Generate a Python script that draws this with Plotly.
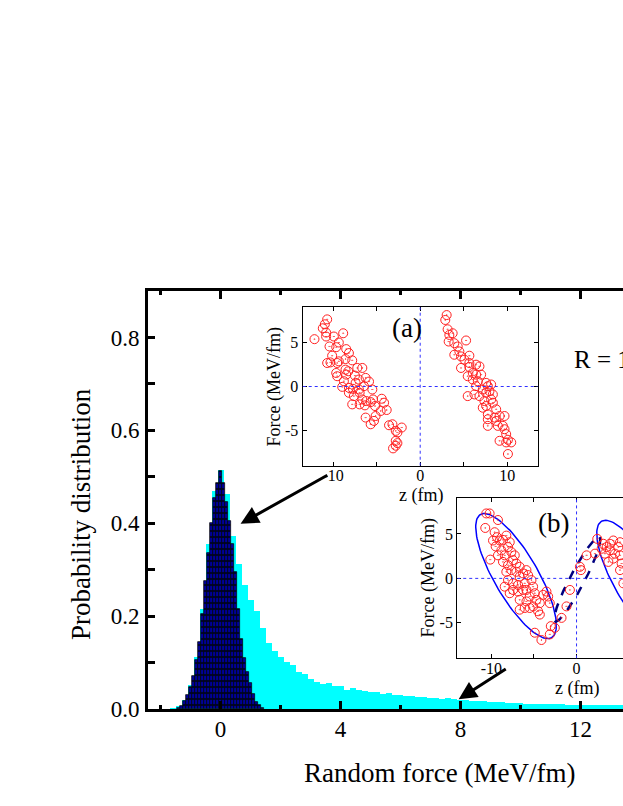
import numpy as np
import plotly.graph_objects as go

FONT = "Liberation Serif"

# ---------------- main histograms ----------------
cyan_x = [-1.6, -1.4, -1.2, -1.0, -0.8, -0.6, -0.4, -0.2, 0.0, 0.2,
          0.4, 0.6, 0.8, 1.0, 1.2, 1.4, 1.6, 1.8, 2.0, 2.2,
          2.4, 2.6, 2.8, 3.0, 3.2, 3.4, 3.6, 3.8, 4.0, 4.2,
          4.4, 4.6, 4.8, 5.0, 5.2, 5.4, 5.6, 5.8, 6.0, 6.2,
          6.4, 6.6, 6.8, 7.0, 7.2, 7.4, 7.6, 7.8, 8.0, 8.2,
          8.4, 8.6, 8.8, 9.0, 9.2, 9.4, 9.6, 9.8, 10.0, 10.2,
          10.4, 10.6, 10.8, 11.0, 11.2, 11.4, 11.6, 11.8, 12.0, 12.2,
          12.4, 12.6, 12.8, 13.0, 13.2, 13.4]
cyan_y = [0.002, 0.007, 0.020, 0.052, 0.112, 0.215, 0.355, 0.470, 0.514, 0.462,
          0.372, 0.312, 0.268, 0.235, 0.210, 0.175, 0.142, 0.124, 0.112, 0.101,
          0.094, 0.080, 0.076, 0.064, 0.058, 0.054, 0.055, 0.049, 0.050, 0.041,
          0.045, 0.040, 0.038, 0.037, 0.036, 0.033, 0.034, 0.030, 0.031, 0.028,
          0.027, 0.026, 0.025, 0.024, 0.023, 0.022, 0.023, 0.021, 0.020, 0.019,
          0.018, 0.017, 0.0175, 0.016, 0.015, 0.0145, 0.014, 0.013, 0.012, 0.0115,
          0.0112, 0.011, 0.0105, 0.0102, 0.010, 0.0098, 0.0094, 0.0092, 0.009, 0.0088,
          0.0087, 0.0085, 0.0086, 0.0084, 0.0083, 0.0082]

dark_x = [-1.4, -1.3, -1.2, -1.1, -1.0, -0.9, -0.8, -0.7, -0.6, -0.5,
          -0.4, -0.3, -0.2, -0.1, 0.0, 0.1, 0.2, 0.3, 0.4, 0.5,
          0.6, 0.7, 0.8, 0.9, 1.0, 1.1, 1.2, 1.3, 1.4]
dark_y = [0.003, 0.007, 0.017, 0.030, 0.048, 0.072, 0.105, 0.145, 0.205, 0.275,
          0.335, 0.400, 0.455, 0.487, 0.512, 0.487, 0.445, 0.405, 0.355, 0.295,
          0.215, 0.150, 0.110, 0.080, 0.055, 0.033, 0.016, 0.008, 0.003]

# ---------------- inset (a) scatter ----------------
a_z = [-12.15, -11.19, -10.69, -10.96, -10.81, -10.81, -9.92, -8.85, -9.35, -10.42,
       -9.65, -8.5, -8.19, -10.12, -10.31, -10.69, -9.54, -9.35, -8.58, -7.81,
       -7.23, -6.65, -8.58, -9.65, -9.54, -8.5, -8.27, -7.5, -8.77, -8.96,
       -8.19, -7.73, -7.42, -7.04, -6.27, -7.04, -6.46, -5.88, -5.5, -6.96,
       -7.62, -8.19, -6.65, -6.19, -7.81, -6.96, -6.35, -5.69, -5.19, -5.42,
       -4.42, -4.15, -3.85, -4.54, -5.12, -5.31, -5.69, -6.27, -3.58, -3.19,
       -2.12, -2.81, -2.81, -2.62, -3.12, -2.81, -2.62,
       3.04, 2.88, 3.15, 3.35, 3.73, 3.27, 3.92, 4.31, 5.27, 4.5,
       4.69, 3.92, 5.08, 5.65, 5.65, 4.69, 5.65, 6.42, 6.81, 6.04,
       6.42, 7.0, 5.46, 6.04, 6.62, 7.58, 7.77, 8.15, 7.19, 6.42,
       5.46, 6.23, 6.81, 7.58, 7.96, 8.35, 7.38, 8.15, 7.19, 7.58,
       8.35, 8.73, 7.77, 7.77, 7.77, 8.54, 8.73, 9.12, 8.92, 9.5,
       9.69, 9.69, 9.88, 10.08, 9.12, 9.88, 10.46, 10.08]
a_f = [5.38, 6.62, 7.63, 7.07, 6.13, 5.68, 5.68, 6.05, 5.0, 4.55,
       4.47, 4.25, 3.80, 3.50, 2.74, 2.67, 2.67, 2.86, 3.12, 2.97,
       2.11, 2.11, 1.92, 1.54, 1.17, 1.35, 1.73, 1.24, 0.60, -0.04,
       -0.15, -0.26, 0.41, 0.79, 0.98, -0.34, 0.04, 0.56, -0.34, -0.71,
       -1.09, -0.71, -1.47, -1.65, -2.03, -2.03, -2.14, -1.77, -2.22, -1.47,
       -1.39, -1.84, -2.67, -2.78, -3.35, -3.91, -4.29, -3.53, -4.40, -4.29,
       -4.66, -5.04, -6.17, -6.43, -7.03, -6.73, -5.23,
       8.12, 7.56, 6.50, 5.86, 6.05, 5.11, 4.92, 4.55, 5.23, 3.98,
       3.42, 3.61, 3.05, 3.50, 2.67, 2.11, 2.22, 2.48, 2.29, 1.54,
       1.35, 1.35, 1.17, 0.79, 0.60, 0.41, 0.04, 0.23, -0.34, 0.04,
       -1.09, -0.90, -1.09, -0.71, -0.53, -0.90, -1.65, -1.47, -2.41, -2.22,
       -1.84, -2.59, -3.16, -3.72, -4.47, -3.53, -3.91, -3.35, -4.47, -4.47,
       -3.35, -4.85, -5.41, -6.05, -6.17, -6.35, -6.35, -7.67]

# ---------------- inset (b) scatter ----------------
b_z = [-10.59, -10.2, -9.22, -10.71, -9.61, -10.12, -9.8, -9.33, -9.49, -9.02,
       -8.63, -8.24, -7.84, -8.04, -8.82, -9.22, -8.43, -7.65, -7.25, -7.45,
       -8.63, -8.04, -7.06, -6.67, -8.24, -7.65, -7.06, -6.27, -5.88, -5.29,
       -5.69, -6.67, -8.04, -8.43, -7.45, -6.86, -6.08, -7.45, -7.84, -6.86,
       -6.27, -5.88, -5.10, -4.90, -5.49, -6.67, -5.88, -4.71, -6.08, -6.67,
       -5.49, -5.10, -4.31, -4.51, -4.31, -3.53, -3.33, -3.92, -3.14, -4.90,
       -3.14, -2.55, -4.12, -3.02,
       -1.76, -1.18, -0.78, 0.39, 0.51, 1.18, 2.16, 2.43,
       3.14, 2.94, 3.53, 3.92, 4.31, 5.10, 3.33, 3.92, 4.51, 4.31,
       3.73, 4.90, 5.10, 5.29, 5.10, 5.49, 6.2, 6.8, 7.5, 8.3,
       9.0, 9.6, 10.2, 7.0, 8.0, 8.8]
b_f = [7.30, 7.30, 6.56, 5.67, 5.19, 2.11, 4.26, 4.63, 3.59, 4.26,
       4.33, 4.81, 4.07, 3.52, 3.15, 2.59, 2.59, 2.96, 2.59, 2.04,
       1.85, 1.48, 1.67, 1.30, 0.74, 0.93, 0.74, 0.56, 0.93, -0.19,
       0.37, 0.19, -0.19, -0.93, -0.56, -0.74, -0.56, -1.30, -1.67, -1.48,
       -1.30, -1.30, -0.93, -1.67, -2.04, -2.41, -2.59, -2.41, -3.33, -3.52,
       -3.33, -3.15, -2.78, -3.70, -4.07, -1.48, -2.04, -1.85, -2.78, -6.11,
       -6.30, -5.56, -6.93, -5.37,
       -4.44, -3.15, -1.30, 1.30, 0.93, 2.59, 2.78, 4.44,
       3.89, 3.33, 3.52, 3.89, 4.26, 4.07, 2.78, 3.15, 2.78, 2.22,
       1.85, 3.52, 2.59, 1.67, 0.93, -0.56, 0.2, -1.0, -2.2, -3.0,
       -4.1, -5.2, -6.3, -1.5, -2.8, -4.6]

# ellipse parameters in inset (b): center, semi-major vector, semi-minor vector
ell_left = dict(c=(-7.1, 0.26), a=(4.16, -6.93), b=(2.25, 1.20))
ell_right = dict(c=(7.1, -0.5), a=(4.16, -6.93), b=(2.25, 1.20))
ell_mid = dict(c=(0.08, -0.11), a=(2.59, 4.74), b=(0.77, -0.37))


def ellipse(p, n=120):
    t = np.linspace(0, 2 * np.pi, n)
    x = p["c"][0] + np.cos(t) * p["a"][0] + np.sin(t) * p["b"][0]
    y = p["c"][1] + np.cos(t) * p["a"][1] + np.sin(t) * p["b"][1]
    return x, y


fig = go.Figure()

fig.add_trace(go.Bar(x=cyan_x, y=cyan_y, width=0.2, marker=dict(color="#00ffff", line=dict(width=0)),
                     xaxis="x", yaxis="y", showlegend=False))
fig.add_trace(go.Bar(x=dark_x, y=dark_y, width=0.1,
                     marker=dict(color="#000000", line=dict(color="#000000", width=0.7),
                                 pattern=dict(shape="-", fgcolor="#0000ff", bgcolor="#000033",
                                              size=6, solidity=0.65)),
                     xaxis="x", yaxis="y", showlegend=False))

sym = "circle-open-dot"
fig.add_trace(go.Scatter(x=a_z, y=a_f, mode="markers", xaxis="x2", yaxis="y2",
                         marker=dict(symbol=sym, size=9, color="#ff2020", line=dict(width=1)),
                         showlegend=False))
for p, col, dash, w in [(ell_left, "#0000ff", "solid", 1.5), (ell_right, "#0000ff", "solid", 1.5),
                        (ell_mid, "#000080", "dash", 2.5)]:
    ex, ey = ellipse(p)
    fig.add_trace(go.Scatter(x=ex, y=ey, mode="lines", xaxis="x3", yaxis="y3",
                             line=dict(color=col, width=w, dash=dash), showlegend=False))
fig.add_trace(go.Scatter(x=b_z, y=b_f, mode="markers", xaxis="x3", yaxis="y3",
                         marker=dict(symbol=sym, size=9, color="#ff2020", line=dict(width=1)),
                         showlegend=False))

tf_main = dict(family=FONT, size=23, color="black")
tf_in = dict(family=FONT, size=16, color="black")

inset_ax = dict(showline=True, linecolor="black", linewidth=1.3, ticks="inside", ticklen=4,
                tickwidth=1, tickcolor="black", showgrid=False, zeroline=False, tickfont=tf_in)

fig.update_layout(
    width=623, height=806,
    margin=dict(l=148, r=0, t=291, b=97),
    paper_bgcolor="white", plot_bgcolor="white",
    barmode="overlay", bargap=0,
    xaxis=dict(domain=[0, 1], range=[-2.42, 13.42], tickvals=[0, 4, 8, 12], ticktext=["0", "4", "8", "12"],
               ticks="inside", ticklen=8, tickwidth=2.5, tickcolor="black",
               minor=dict(tickvals=[-2, 2, 6, 10], ticks="inside", ticklen=4, tickwidth=2.5, tickcolor="black"),
               showline=True, linewidth=3, linecolor="black", mirror="ticks",
               showgrid=False, zeroline=False, tickfont=tf_main, ticklabelstandoff=-3),
    yaxis=dict(domain=[0, 1], range=[0, 0.9], tickvals=[0, 0.2, 0.4, 0.6, 0.8],
               ticktext=["0.0", "0.2", "0.4", "0.6", "0.8"],
               ticks="inside", ticklen=7, tickwidth=2.5, tickcolor="black",
               minor=dict(tickvals=[0.1, 0.3, 0.5, 0.7], ticks="inside", ticklen=7, tickwidth=2.5,
                          tickcolor="black"),
               showline=True, linewidth=3, linecolor="black", mirror=False,
               showgrid=False, zeroline=False, tickfont=tf_main, ticklabelstandoff=1),
    xaxis2=dict(domain=[0.3257, 0.8204], range=[-13.5, 13.5], anchor="y2",
                tickvals=[-10, 0, 10], ticktext=["-10", "0", "10"], mirror="ticks",
                minor=dict(tickvals=[-5, 5], ticks="inside", ticklen=4, tickcolor="black"),
                ticklabelstandoff=-5, **inset_ax),
    yaxis2=dict(domain=[0.582, 0.961], range=[-9, 9], anchor="x2",
                tickvals=[-5, 0, 5], ticktext=["-5", "0", "5"], mirror="ticks", **inset_ax),
    xaxis3=dict(domain=[0.651, 1.0], range=[-14, 5.45], anchor="y3",
                tickvals=[-10, 0], ticktext=["-10", "0"], mirror="ticks",
                minor=dict(tickvals=[-5], ticks="inside", ticklen=4, tickcolor="black"),
                ticklabelstandoff=-5, **inset_ax),
    yaxis3=dict(domain=[0.121, 0.504], range=[-9, 9], anchor="x3",
                tickvals=[-5, 0, 5], ticktext=["-5", "0", "5"], mirror=False, **inset_ax),
)

dot = dict(color="#3030ff", width=1, dash="dot")
fig.add_shape(type="line", xref="x2", yref="y2", x0=-13.5, x1=13.5, y0=0, y1=0, line=dot)
fig.add_shape(type="line", xref="x2", yref="y2", x0=0, x1=0, y0=-9, y1=9, line=dot)
fig.add_shape(type="line", xref="x3", yref="y3", x0=-14, x1=5.45, y0=0, y1=0, line=dot)
fig.add_shape(type="line", xref="x3", yref="y3", x0=0, x1=0, y0=-9, y1=9, line=dot)

ann = []
# axis titles
ann.append(dict(text="Random force (MeV/fm)", x=0.6137, y=-0.1531, xref="paper", yref="paper",
                showarrow=False, font=dict(family=FONT, size=27, color="black"),
                xanchor="center", yanchor="middle"))
ann.append(dict(text="Probability distribution", x=-0.141, y=0.4665, xref="paper", yref="paper",
                showarrow=False, textangle=-90, font=dict(family=FONT, size=27, color="black"),
                xanchor="center", yanchor="middle"))
ann.append(dict(text="R = 10 fm", x=0.892, y=0.835, xref="paper", yref="paper", showarrow=False,
                font=dict(family=FONT, size=25, color="black"), xanchor="left", yanchor="middle"))
ann.append(dict(text="(a)", x=0.5446, y=0.9108, xref="paper", yref="paper", showarrow=False,
                font=dict(family=FONT, size=27, color="black"), xanchor="center", yanchor="middle"))
ann.append(dict(text="(b)", x=0.8533, y=0.4443, xref="paper", yref="paper", showarrow=False,
                font=dict(family=FONT, size=27, color="black"), xanchor="center", yanchor="middle"))
ann.append(dict(text="Force (MeV/fm)", x=0.2674, y=0.769, xref="paper", yref="paper", showarrow=False,
                textangle=-90, font=dict(family=FONT, size=18, color="black"),
                xanchor="center", yanchor="middle"))
ann.append(dict(text="z (fm)", x=0.5747, y=0.511, xref="paper", yref="paper", showarrow=False,
                font=dict(family=FONT, size=18, color="black"), xanchor="center", yanchor="middle"))
ann.append(dict(text="Force (MeV/fm)", x=0.590, y=0.3127, xref="paper", yref="paper", showarrow=False,
                textangle=-90, font=dict(family=FONT, size=18, color="black"),
                xanchor="center", yanchor="middle"))
ann.append(dict(text="z (fm)", x=0.9038, y=0.0480, xref="paper", yref="paper", showarrow=False,
                font=dict(family=FONT, size=18, color="black"), xanchor="center", yanchor="middle"))
# arrows (tip at x,y; tail at ax,ay in data units)
for tip, tail in [((0.667, 0.399), (3.61, 0.505)), ((7.94, 0.021), (9.56, 0.088))]:
    ann.append(dict(text="", x=tip[0], y=tip[1], ax=tail[0], ay=tail[1], xref="x", yref="y",
                    axref="x", ayref="y", showarrow=True, arrowhead=2, arrowsize=1.2,
                    arrowwidth=3, arrowcolor="black", standoff=0))
fig.update_layout(annotations=ann)

fig.write_html("out.html", config={"displayModeBar": False},
               post_script="document.body.style.margin='0px';document.body.style.overflow='hidden';")
